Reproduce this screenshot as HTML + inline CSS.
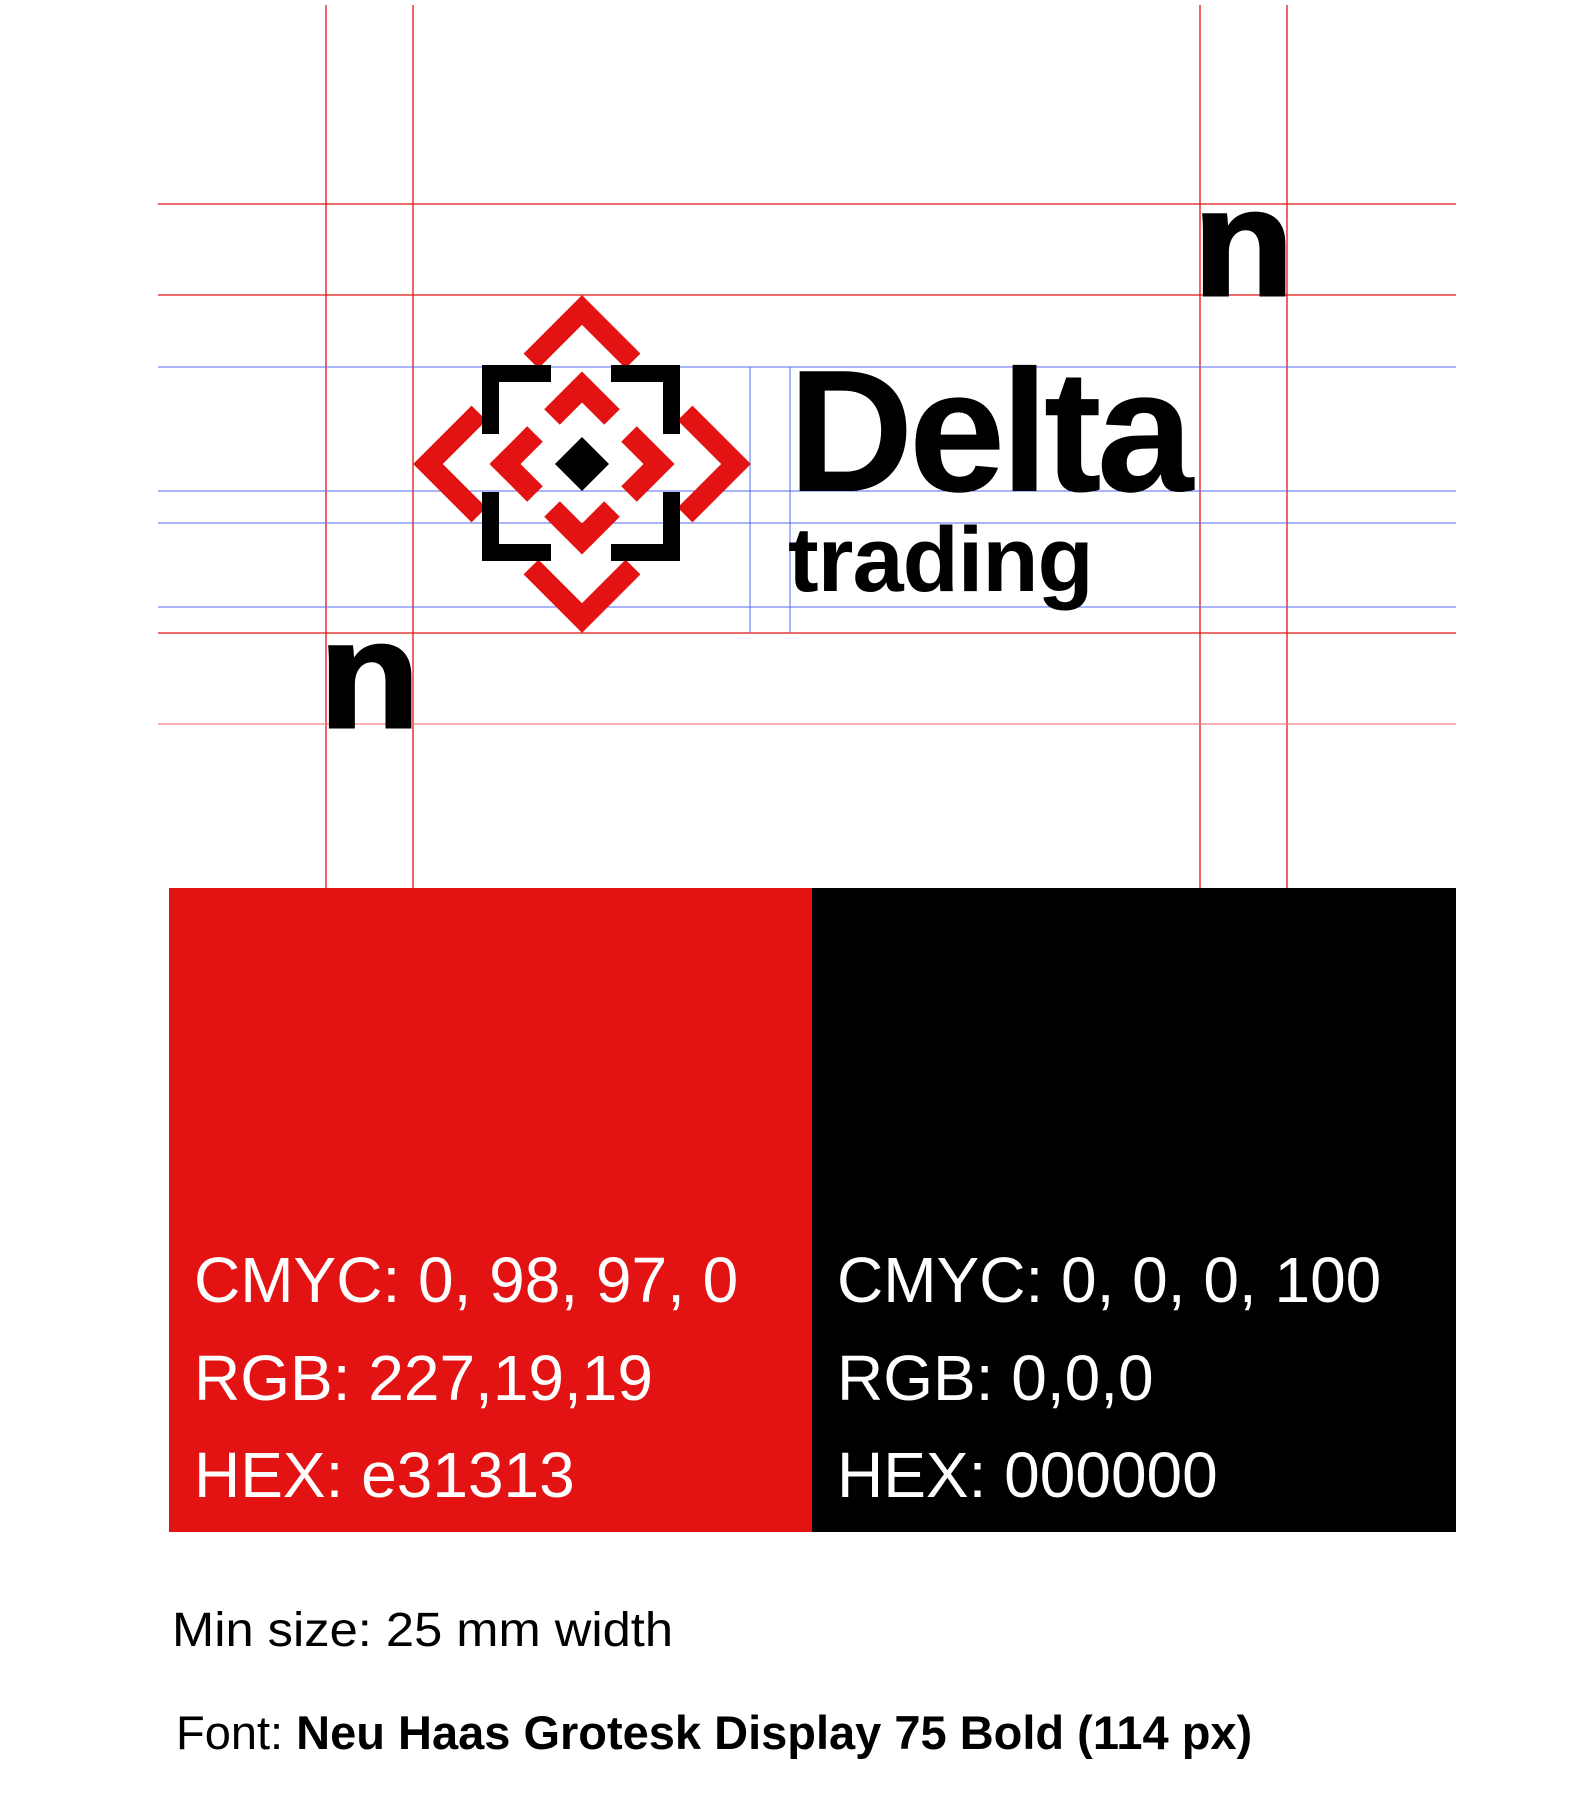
<!DOCTYPE html>
<html><head><meta charset="utf-8"><style>
html,body{margin:0;padding:0;background:#fff;}
svg{display:block;}
text{font-family:"Liberation Sans",Arial,sans-serif;}
</style></head><body>
<svg width="1577" height="1811" viewBox="0 0 1577 1811">
  <g>
    <g stroke="#e31313" stroke-width="1.3">
      <line x1="326" y1="5" x2="326" y2="888"/>
      <line x1="413" y1="5" x2="413" y2="888"/>
      <line x1="1200" y1="5" x2="1200" y2="888"/>
      <line x1="1287" y1="5" x2="1287" y2="888"/>
      <line x1="158" y1="204" x2="1456" y2="204"/>
      <line x1="158" y1="295" x2="1456" y2="295"/>
      <line x1="158" y1="633" x2="1456" y2="633"/>
      <line x1="158" y1="724" x2="1456" y2="724" stroke="#f08080"/>
    </g>
    <g stroke="#5468f0" stroke-width="1">
      <line x1="158" y1="367" x2="1456" y2="367"/>
      <line x1="158" y1="491" x2="1456" y2="491"/>
      <line x1="158" y1="523" x2="1456" y2="523"/>
      <line x1="158" y1="607" x2="1456" y2="607"/>
      <line x1="750" y1="367" x2="750" y2="633"/>
      <line x1="790" y1="367" x2="790" y2="633"/>
    </g>
  </g>

  <g transform="translate(582,464)">
    <g fill="none" stroke="#e31313" stroke-width="21" stroke-linejoin="miter" stroke-miterlimit="10">
      <polyline points="-51,-103 0,-154 51,-103"/>
      <polyline points="-51,103 0,154 51,103"/>
      <polyline points="-103,-51 -154,0 -103,51"/>
      <polyline points="103,-51 154,0 103,51"/>
    </g>
    <g fill="none" stroke="#e31313" stroke-width="22" stroke-linejoin="miter" stroke-miterlimit="10">
      <polyline points="-30,-47 0,-77 30,-47"/>
      <polyline points="-30,45 0,75 30,45"/>
      <polyline points="-47,-30 -77,0 -47,30"/>
      <polyline points="47,-30 77,0 47,30"/>
    </g>
    <polygon points="0,-27 27,0 0,27 -27,0" fill="#000"/>
    <g fill="#000">
      <path d="M-100,-99 H-31 V-82 H-83 V-30 H-100 Z"/>
      <path d="M98,-99 H29 V-82 H81 V-30 H98 Z"/>
      <path d="M-100,97 H-31 V80 H-83 V28 H-100 Z"/>
      <path d="M98,97 H29 V80 H81 V28 H98 Z"/>
    </g>
  </g>

  <text x="788" y="491" font-size="174" font-weight="bold" letter-spacing="-5" fill="#000">Delta</text>
  <text x="788" y="591" font-size="92" font-weight="bold" letter-spacing="-1" fill="#000">trading</text>

  <text x="1193" y="295" font-size="152" font-weight="bold" textLength="101" lengthAdjust="spacingAndGlyphs" stroke="#000" stroke-width="3" fill="#000">n</text>
  <text x="319" y="727" font-size="152" font-weight="bold" textLength="101" lengthAdjust="spacingAndGlyphs" stroke="#000" stroke-width="3" fill="#000">n</text>

  <g>
    <rect x="169" y="888" width="643" height="644" fill="#e31313"/>
    <text x="194" y="1302" font-size="64" fill="#fff">CMYC: 0, 98, 97, 0</text>
    <text x="194" y="1400" font-size="64" fill="#fff">RGB: 227,19,19</text>
    <text x="194" y="1497" font-size="64" fill="#fff">HEX: e31313</text>
  </g>
  <g>
    <rect x="812" y="888" width="644" height="644" fill="#000"/>
    <text x="837" y="1302" font-size="64" fill="#fff">CMYC: 0, 0, 0, 100</text>
    <text x="837" y="1400" font-size="64" fill="#fff">RGB: 0,0,0</text>
    <text x="837" y="1497" font-size="64" fill="#fff">HEX: 000000</text>
  </g>

  <text x="172" y="1646" font-size="48" fill="#000" textLength="501" lengthAdjust="spacingAndGlyphs">Min size: 25 mm width</text>
  <text x="176" y="1749" font-size="47" fill="#000">Font: <tspan font-weight="bold" letter-spacing="0">Neu Haas Grotesk Display 75 Bold (114 px)</tspan></text>
</svg>
</body></html>
